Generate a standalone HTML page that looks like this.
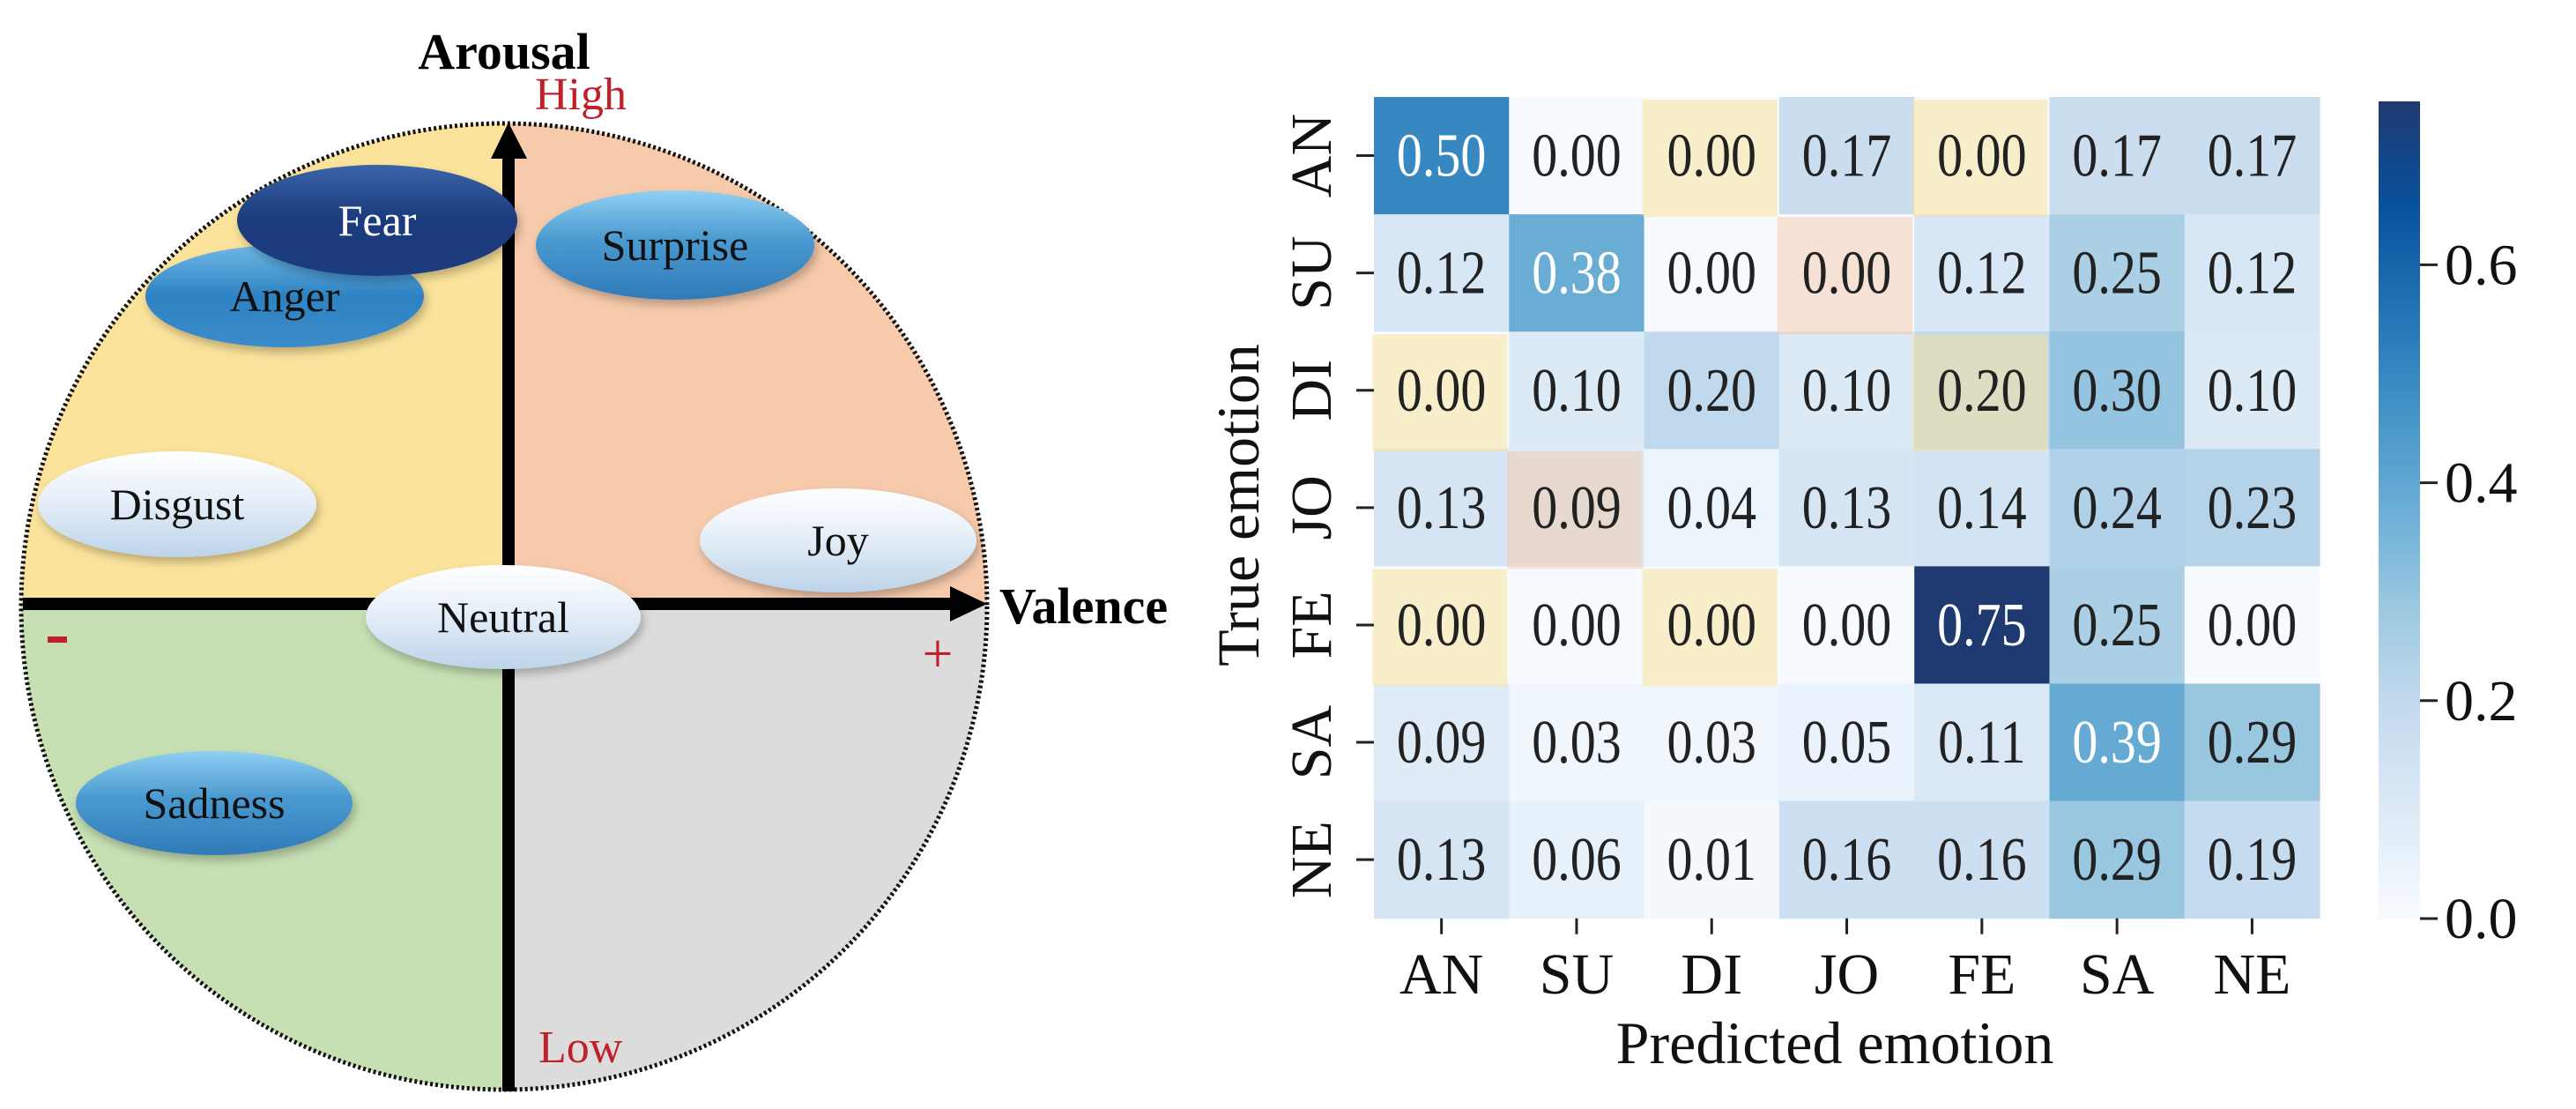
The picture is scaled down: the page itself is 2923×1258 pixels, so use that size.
<!DOCTYPE html>
<html><head><meta charset="utf-8"><style>
html,body{margin:0;padding:0;background:#fff;}
svg{display:block;}
text{font-family:"Liberation Serif",serif;}
</style></head><body>
<svg id="fig" width="2923" height="1258" viewBox="0 0 2923 1258" xmlns="http://www.w3.org/2000/svg">
<defs>
<clipPath id="circ"><circle cx="572" cy="688" r="548"/></clipPath>
<linearGradient id="gBlue" x1="0" y1="0" x2="0" y2="1"><stop offset="0" stop-color="#8fd0f2"/><stop offset="0.45" stop-color="#4a9ad0"/><stop offset="1" stop-color="#2f7ab8"/></linearGradient>
<linearGradient id="gBlue2" x1="0" y1="0" x2="0" y2="1"><stop offset="0" stop-color="#6fb8e6"/><stop offset="0.5" stop-color="#2e82c2"/><stop offset="1" stop-color="#3c8ccc"/></linearGradient>
<linearGradient id="gLight" x1="0" y1="0" x2="0" y2="1"><stop offset="0" stop-color="#ffffff"/><stop offset="0.45" stop-color="#e6eff8"/><stop offset="1" stop-color="#bcd4ea"/></linearGradient>
<linearGradient id="gDark" x1="0" y1="0" x2="0" y2="1"><stop offset="0" stop-color="#3a64a8"/><stop offset="0.5" stop-color="#1a3a7c"/><stop offset="1" stop-color="#1c3c80"/></linearGradient>
<linearGradient id="cbar" x1="0" y1="1" x2="0" y2="0">
<stop offset="0" stop-color="#f7fbff"/><stop offset="0.125" stop-color="#deebf7"/><stop offset="0.25" stop-color="#c6dbef"/><stop offset="0.375" stop-color="#9ecae1"/><stop offset="0.5" stop-color="#6baed6"/><stop offset="0.625" stop-color="#4292c6"/><stop offset="0.75" stop-color="#2171b5"/><stop offset="0.875" stop-color="#08519c"/><stop offset="1" stop-color="#1f3a70"/>
</linearGradient>
<filter id="sh" x="-20%" y="-20%" width="140%" height="150%"><feDropShadow dx="3" dy="6" stdDeviation="5" flood-color="#000" flood-opacity="0.25"/></filter>
</defs>

<g>
<g clip-path="url(#circ)">
<rect x="0" y="0" width="577" height="685" fill="#fbe39b"/>
<rect x="577" y="0" width="600" height="685" fill="#f6caab"/>
<rect x="0" y="685" width="577" height="600" fill="#c6dfb3"/>
<rect x="577" y="685" width="600" height="600" fill="#dcdcdc"/>
</g>
<circle cx="572" cy="688" r="548" fill="none" stroke="#111" stroke-width="5" stroke-dasharray="3 3"/>
<rect x="570" y="170" width="14" height="1068" fill="#000"/>
<polygon points="577,139 557,180 598,180" fill="#000"/>
<rect x="26" y="678" width="1060" height="14" fill="#000"/>
<polygon points="1120,685 1078,665 1078,705" fill="#000"/>
<text x="572" y="78" font-size="58" font-weight="bold" text-anchor="middle">Arousal</text>
<text x="607" y="124" font-size="52" fill="#c0202a">High</text>
<text x="1134" y="707" font-size="58" font-weight="bold">Valence</text>
<rect x="54" y="722" width="22" height="7" fill="#c0202a"/>
<text x="1064" y="762" font-size="62" fill="#c0202a" text-anchor="middle">+</text>
<text x="611" y="1205" font-size="52" fill="#c0202a">Low</text>

<g><ellipse cx="323" cy="336" rx="158" ry="58" fill="url(#gBlue2)" filter="url(#sh)"/><text x="323" y="353" font-size="50" text-anchor="middle" fill="#111">Anger</text></g>
<g><ellipse cx="428" cy="250" rx="159" ry="63" fill="url(#gDark)" filter="url(#sh)"/><text x="428" y="267" font-size="50" text-anchor="middle" fill="#fff">Fear</text></g>
<g><ellipse cx="766" cy="278" rx="158" ry="62" fill="url(#gBlue)" filter="url(#sh)"/><text x="766" y="295" font-size="50" text-anchor="middle" fill="#111">Surprise</text></g>
<g><ellipse cx="201" cy="572" rx="158" ry="60" fill="url(#gLight)" filter="url(#sh)"/><text x="201" y="589" font-size="50" text-anchor="middle" fill="#111">Disgust</text></g>
<g><ellipse cx="951" cy="613" rx="157" ry="59" fill="url(#gLight)" filter="url(#sh)"/><text x="951" y="630" font-size="50" text-anchor="middle" fill="#111">Joy</text></g>
<g><ellipse cx="571" cy="700" rx="156" ry="59" fill="url(#gLight)" filter="url(#sh)"/><text x="571" y="717" font-size="50" text-anchor="middle" fill="#111">Neutral</text></g>
<g><ellipse cx="243" cy="911" rx="157" ry="59" fill="url(#gBlue)" filter="url(#sh)"/><text x="243" y="928" font-size="50" text-anchor="middle" fill="#111">Sadness</text></g>
</g>

<g id="heat"></g>
</svg>
<script>
const labels = ["AN","SU","DI","JO","FE","SA","NE"];
const rowAN = [0.50,0.00,0.00,0.17,0.00,0.17,0.17];
const rowSU = [0.12,0.38,0.00,0.00,0.12,0.25,0.12];
const rowDI = [0.00,0.10,0.20,0.10,0.20,0.30,0.10];
const rowJO = [0.13,0.09,0.04,0.13,0.14,0.24,0.23];
const rowFE = [0.00,0.00,0.00,0.00,0.75,0.25,0.00];
const rowSA = [0.09,0.03,0.03,0.05,0.11,0.39,0.29];
const rowNE = [0.13,0.06,0.01,0.16,0.16,0.29,0.19];
const cbTicks = [0.0,0.2,0.4,0.6];
const yellowCells = [[0,2],[0,4],[2,0],[2,4],[4,0],[4,2]];
const orangeCells = [[1,3],[3,1]];
const rows=[rowAN,rowSU,rowDI,rowJO,rowFE,rowSA,rowNE];
const NS="http://www.w3.org/2000/svg";
const g=document.getElementById('heat');
const X0=1559,Y0=110,CW=153.3,CH=133.1,VMAX=0.75;
const xs=i=>X0+i*CW, ys=j=>Y0+j*CH;
const stops=[[247,251,255],[222,235,247],[198,219,239],[158,202,225],[107,174,214],[66,146,198],[33,113,181],[8,81,156],[31,58,112]];
function cmap(v){let t=Math.max(0,Math.min(1,v/VMAX))*8;let i=Math.min(7,Math.floor(t)),f=t-i;const a=stops[i],b=stops[i+1];return `rgb(${a.map((c,k)=>Math.round(c+(b[k]-c)*f)).join(',')})`;}
function mk(tag,attrs,parent){const e=document.createElementNS(NS,tag);for(const k in attrs)e.setAttribute(k,attrs[k]);(parent||g).appendChild(e);return e;}
rows.forEach((r,j)=>r.forEach((v,i)=>{
 const c=mk('rect',{x:xs(i),y:ys(j),width:CW+0.5,height:CH+0.5,fill:cmap(v)});
 
 
}));
yellowCells.forEach(([j,i])=>{const o=mk('rect',{x:xs(i)-2,y:ys(j)+3,width:CW,height:CH,fill:'rgba(250,228,150,0.5)'});
 
 });
orangeCells.forEach(([j,i])=>{const o=mk('rect',{x:xs(i)-2,y:ys(j)+3,width:CW,height:CH,fill:'rgba(245,195,160,0.45)'});
 
 });
rows.forEach((r,j)=>r.forEach((v,i)=>{
 const t=mk('text',{x:0,y:0,'font-size':58,'text-anchor':'middle',fill:(v/VMAX>0.45)?'#fff':'#222',transform:`translate(${xs(i)+CW/2},${ys(j)+CH/2+23}) scale(1,1.2)`});
 t.textContent=v.toFixed(2);
 
 
}));
labels.forEach((l,i)=>{
 mk('line',{x1:xs(i)+CW/2,x2:xs(i)+CW/2,y1:Y0+7*CH,y2:Y0+7*CH+18,stroke:'#222','stroke-width':3});
 const t=mk('text',{x:xs(i)+CW/2,y:1127,'font-size':66,'text-anchor':'middle',fill:'#111'});t.textContent=l;
 
 
 const cy=ys(i)+CH/2;
 mk('line',{x1:X0-20,x2:X0,y1:cy,y2:cy,stroke:'#222','stroke-width':3});
 const ty=mk('text',{x:0,y:0,'font-size':66,'text-anchor':'middle',fill:'#111',transform:`translate(1510,${cy}) rotate(-90)`});ty.textContent=l;
 
 
});
const xt=mk('text',{x:2082,y:1206,'font-size':68,'text-anchor':'middle',fill:'#111'});xt.textContent='Predicted emotion';


const yt=mk('text',{x:0,y:0,'font-size':68,'text-anchor':'middle',fill:'#111',transform:'translate(1428,573) rotate(-90)'});yt.textContent='True emotion';


const CB0=1042,CB1=115,cby=v=>CB0-(v/VMAX)*(CB0-CB1);
const cb=mk('rect',{x:2699,y:CB1,width:47,height:CB0-CB1,fill:'url(#cbar)'});


cbTicks.forEach(v=>{
 mk('line',{x1:2746,x2:2766,y1:cby(v),y2:cby(v),stroke:'#222','stroke-width':3});
 const t=mk('text',{x:2774,y:cby(v)+22,'font-size':66,fill:'#111'});t.textContent=v.toFixed(1);
 
 
});
</script>
</body></html>
